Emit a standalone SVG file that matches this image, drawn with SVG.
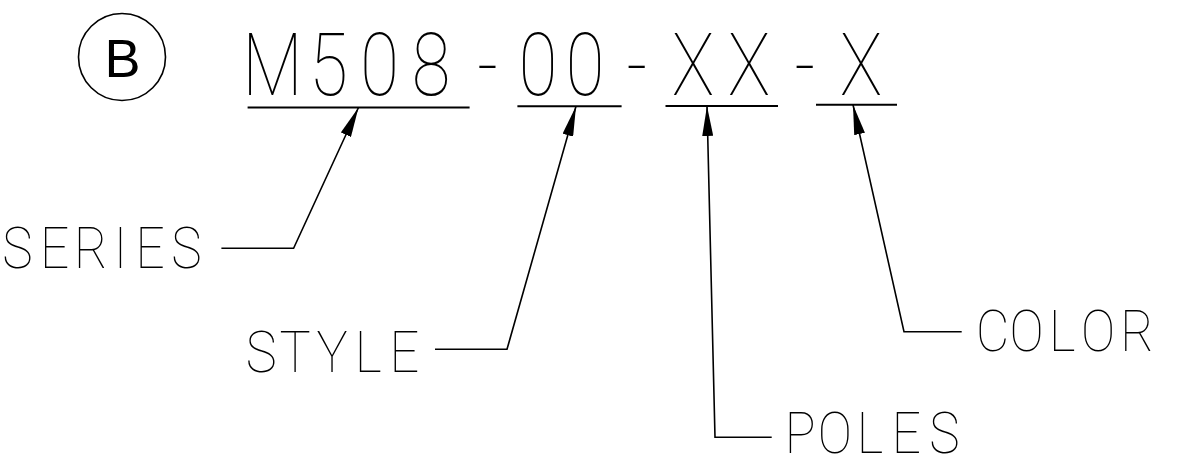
<svg xmlns="http://www.w3.org/2000/svg" width="1184" height="475" viewBox="0 0 1184 475">
<style>
.cad{font-family:Roboto,Lato,"Noto Sans",sans-serif;font-weight:100;fill:#000;text-anchor:middle}
.ul{stroke:#000;stroke-width:2;fill:none}
.ld{stroke:#000;stroke-width:1.6;fill:none;marker-end:url(#ah)}
</style>
<defs>
<marker id="ah" viewBox="0 0 30 11" refX="30" refY="5.5" markerWidth="30" markerHeight="11" markerUnits="userSpaceOnUse" orient="auto">
<path d="M0,0 L30,5.5 L0,11 z" fill="#000"/>
</marker>
</defs>
<rect width="1184" height="475" fill="#fff"/>
<g id="badge">
<circle cx="122" cy="57" r="43.5" fill="none" stroke="#000" stroke-width="1.6"/>
<text x="122.5" y="77.3" font-family="Liberation Sans,Arial,sans-serif" font-size="54" text-anchor="middle">B</text>
</g>
<g id="code">
<text class="cad" font-size="88" transform="scale(0.8,1)" y="95" x="340.4 410.5 474.4 538.9 609.5 672.5 731.3 796.1 866.3 936.3 1006.3 1076.3">M508-00-XX-X</text>
<line class="ul" x1="247.6" y1="107.5" x2="469.6" y2="107.5"/>
<line class="ul" x1="517.4" y1="106.3" x2="621.6" y2="106.3"/>
<line class="ul" x1="665.5" y1="106" x2="778" y2="106"/>
<line class="ul" x1="816" y1="104.7" x2="897" y2="104.7"/>
</g>
<g id="series">
<text class="cad" font-size="57" transform="scale(0.9,1)" y="268.3" x="19.4 60.6 100.8 133.9 166.7 207.1">SERIES</text>
</g>
<g id="style">
<text class="cad" font-size="58" transform="scale(0.9,1)" y="372.3" x="290.2 327.8 369 409.1 449.4">STYLE</text>
</g>
<g id="poles">
<text class="cad" font-size="57" transform="scale(0.9,1)" y="452.7" x="889.2 927.7 966.7 1007.1 1049.4">POLES</text>
</g>
<g id="color">
<text class="cad" font-size="57" transform="scale(0.9,1)" y="350.7" x="1103 1140.8 1180.3 1220 1263.3">COLOR</text>
</g>
<g id="connectors">
<polyline class="ld" points="221.4,248.3 293.6,248.3 358.5,107.5"/>
<polyline class="ld" points="435,349.3 507,349.3 576,106.3"/>
<polyline class="ld" points="771.7,437.3 715,437.3 707,106"/>
<polyline class="ld" points="961.7,331.7 904,331.7 853,104.7"/>
</g>
</svg>
